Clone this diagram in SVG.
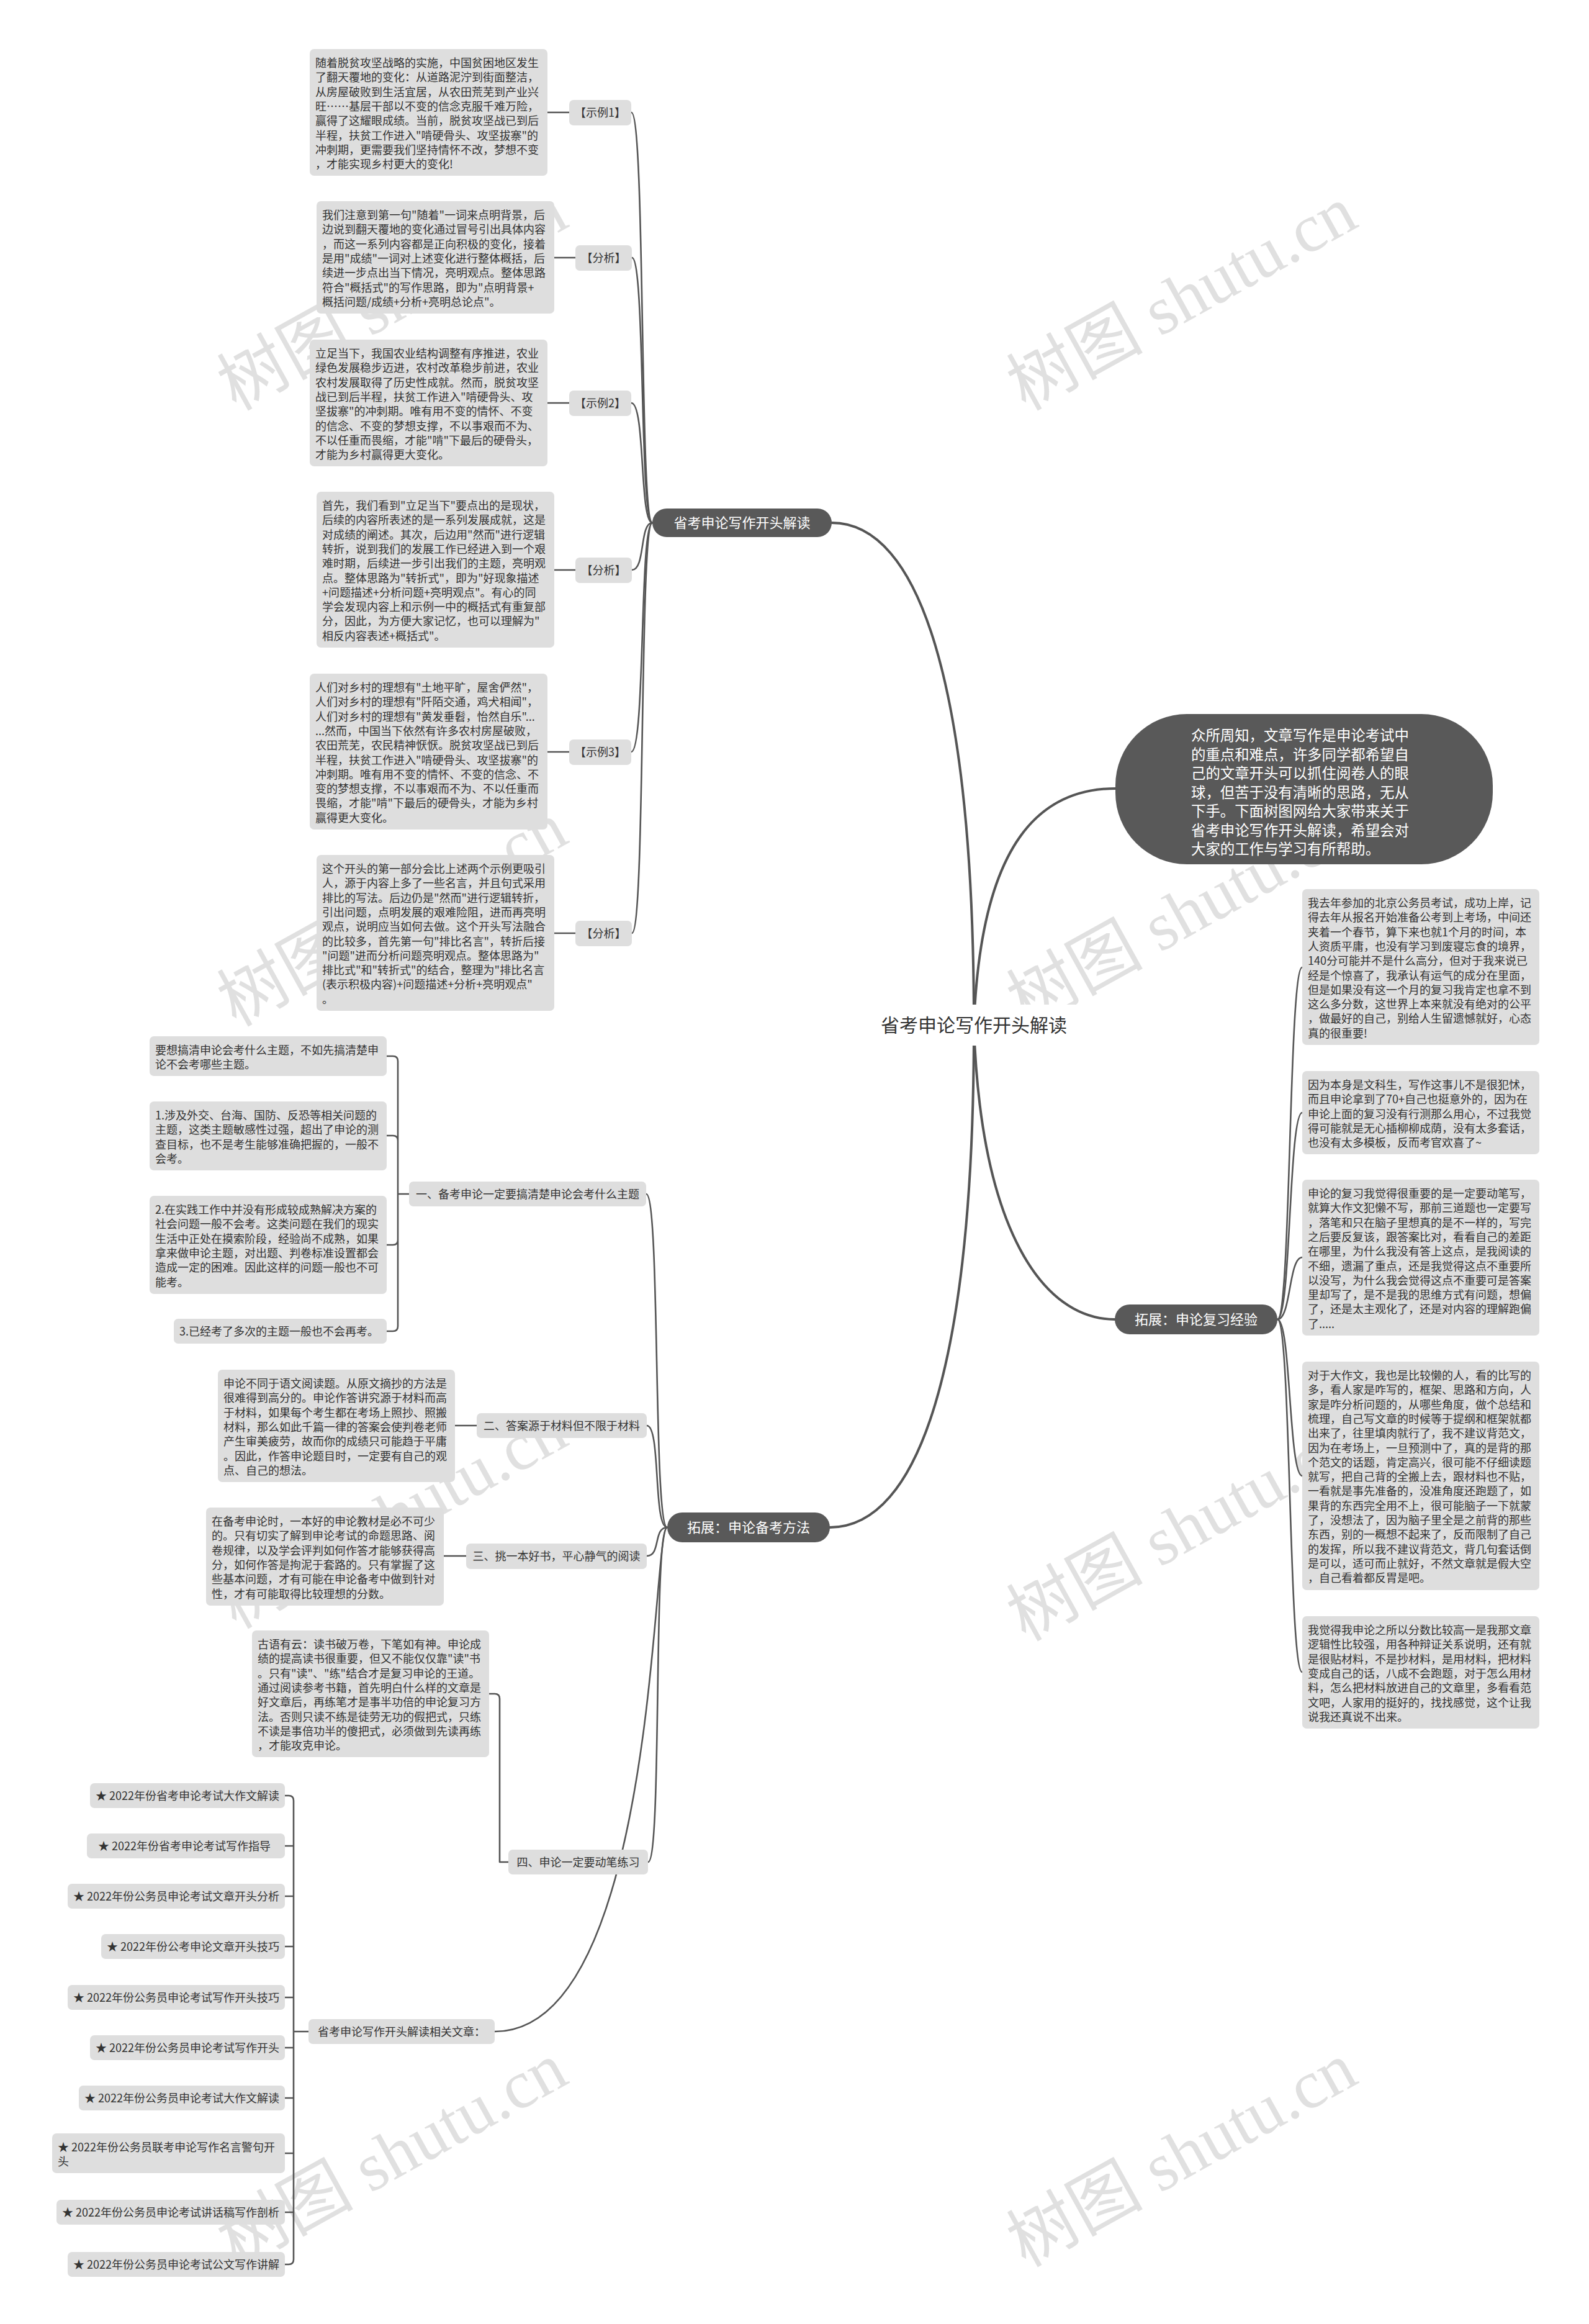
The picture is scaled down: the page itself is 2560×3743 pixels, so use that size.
<svg xmlns="http://www.w3.org/2000/svg" width="2560" height="3743" viewBox="0 0 2560 3743">
<style>
.t{font-family:"Noto Sans CJK SC","Noto Sans",sans-serif;font-size:18px;fill:#333}
.box{fill:#dedede}
.dk{fill:#595959}
.wt{font-family:"Noto Sans CJK SC","Noto Sans",sans-serif;font-size:22px;fill:#fff}
.ln{fill:none;stroke:#555;stroke-width:2.6;stroke-linecap:round;stroke-linejoin:round}
.mn{fill:none;stroke:#555;stroke-width:4;stroke-linecap:round}
.wm{font-size:110px;fill:#c8c8c8;opacity:0.55}
.wmc{font-family:"Noto Sans CJK SC",sans-serif}
.wme{font-family:"Liberation Serif",serif}
</style>
<rect width="2560" height="3743" fill="#fff"/>
<g id="watermarks">
<text class="wm" transform="translate(650,513) rotate(-29)" text-anchor="middle"><tspan class="wmc">树图</tspan><tspan class="wme"> shutu.cn</tspan></text>
<text class="wm" transform="translate(1922,513) rotate(-29)" text-anchor="middle"><tspan class="wmc">树图</tspan><tspan class="wme"> shutu.cn</tspan></text>
<text class="wm" transform="translate(650,1505) rotate(-29)" text-anchor="middle"><tspan class="wmc">树图</tspan><tspan class="wme"> shutu.cn</tspan></text>
<text class="wm" transform="translate(1922,1505) rotate(-29)" text-anchor="middle"><tspan class="wmc">树图</tspan><tspan class="wme"> shutu.cn</tspan></text>
<text class="wm" transform="translate(650,2475) rotate(-29)" text-anchor="middle"><tspan class="wmc">树图</tspan><tspan class="wme"> shutu.cn</tspan></text>
<text class="wm" transform="translate(1922,2495) rotate(-29)" text-anchor="middle"><tspan class="wmc">树图</tspan><tspan class="wme"> shutu.cn</tspan></text>
<text class="wm" transform="translate(650,3503) rotate(-29)" text-anchor="middle"><tspan class="wmc">树图</tspan><tspan class="wme"> shutu.cn</tspan></text>
<text class="wm" transform="translate(1922,3503) rotate(-29)" text-anchor="middle"><tspan class="wmc">树图</tspan><tspan class="wme"> shutu.cn</tspan></text>
</g>
<g id="connectors">
<path class="mn" d="M1569,1652 C1569,1100 1480,842 1340,842"/>
<path class="mn" d="M1569,1652 C1580,1350 1680,1270 1797,1270"/>
<path class="mn" d="M1569,1652 C1580,1980 1680,2125 1796,2125"/>
<path class="mn" d="M1569,1652 C1569,2200 1480,2460 1337,2460"/>
<path class="ln" d="M1017,181 C1040,181 1030,842 1051,842"/>
<path class="ln" d="M1018,415 C1040,415 1030,842 1051,842"/>
<path class="ln" d="M1017,649 C1040,649 1030,842 1051,842"/>
<path class="ln" d="M1018,918 C1040,918 1030,842 1051,842"/>
<path class="ln" d="M1017,1211 C1040,1211 1030,842 1051,842"/>
<path class="ln" d="M1018,1503 C1040,1503 1030,842 1051,842"/>
<path class="ln" d="M882,181 H917"/>
<path class="ln" d="M893,415 H927"/>
<path class="ln" d="M882,649 H917"/>
<path class="ln" d="M893,918 H927"/>
<path class="ln" d="M882,1211 H917"/>
<path class="ln" d="M893,1503 H927"/>
<path class="ln" d="M2058,2125 C2080,2125 2076,1558 2098,1558"/>
<path class="ln" d="M2058,2125 C2080,2125 2076,1792 2098,1792"/>
<path class="ln" d="M2058,2125 C2080,2125 2076,2025 2098,2025"/>
<path class="ln" d="M2058,2125 C2080,2125 2076,2377 2098,2377"/>
<path class="ln" d="M2058,2125 C2080,2125 2076,2693 2098,2693"/>
<path class="ln" d="M1075,2460 C1052,2460 1064,1923 1041,1923"/>
<path class="ln" d="M1075,2460 C1052,2460 1065,2296 1042,2296"/>
<path class="ln" d="M1075,2460 C1052,2460 1065,2506 1042,2506"/>
<path class="ln" d="M1075,2460 C1052,2460 1067,2999 1044,2999"/>
<path class="ln" d="M1075,2460 C1050,2460 1060,3272 797,3272"/>
<path class="ln" d="M623,1701 H633 Q641,1701 641,1709 V2136 Q641,2144 633,2144 H623 M623,1829 H633 Q641,1829 641,1837 M623,2005 H633 Q641,2005 641,1997 M641,1923 H659"/>
<path class="ln" d="M733,2296 H768"/>
<path class="ln" d="M715,2506 H751"/>
<path class="ln" d="M788,2728 H797 Q805,2728 805,2736 V2999 H819"/>
<path class="ln" d="M459,2892 H465 Q473,2892 473,2900 V3639 Q473,3647 465,3647 H459 M459,2973 H473 M459,3054 H473 M459,3135 H473 M459,3217 H473 M459,3298 H473 M459,3379 H473 M459,3468 H473 M459,3563 H473 M473,3272 H497"/>
</g>
<g id="center">
<rect x="1400" y="1618" width="340" height="66" rx="8" fill="#fff"/>
<text x="1569" y="1662" text-anchor="middle" style="font-family:'Noto Sans CJK SC',sans-serif;font-size:30px;fill:#333">省考申论写作开头解读</text>
</g>
<g id="intro">
<rect x="1797" y="1150" width="608" height="242" rx="115" fill="#595959"/>
<text class="wt" x="1919" y="1193" style="font-size:23.4px"><tspan x="1919">众所周知，文章写作是申论考试中</tspan><tspan x="1919" dy="30.5">的重点和难点，许多同学都希望自</tspan><tspan x="1919" dy="30.5">己的文章开头可以抓住阅卷人的眼</tspan><tspan x="1919" dy="30.5">球，但苦于没有清晰的思路，无从</tspan><tspan x="1919" dy="30.5">下手。下面树图网给大家带来关于</tspan><tspan x="1919" dy="30.5">省考申论写作开头解读，希望会对</tspan><tspan x="1919" dy="30.5">大家的工作与学习有所帮助。</tspan></text>
</g>
<g id="branch1">
<rect class="dk" x="1051" y="819" width="289" height="46" rx="23"/>
<text class="wt" x="1195.5" y="850" text-anchor="middle">省考申论写作开头解读</text>
</g>
<g id="branch2">
<rect class="dk" x="1796" y="2101" width="262" height="48" rx="24"/>
<text class="wt" x="1927" y="2133" text-anchor="middle">拓展：申论复习经验</text>
</g>
<g id="branch3">
<rect class="dk" x="1075" y="2436" width="262" height="48" rx="24"/>
<text class="wt" x="1206" y="2468" text-anchor="middle">拓展：申论备考方法</text>
</g>
<g id="label-ex1"><rect class="box" x="917" y="161" width="100" height="41" rx="7"/><text class="t" x="967" y="188" text-anchor="middle">【示例1】</text></g>
<g id="label-an1"><rect class="box" x="927" y="395" width="91" height="41" rx="7"/><text class="t" x="972.5" y="422" text-anchor="middle">【分析】</text></g>
<g id="label-ex2"><rect class="box" x="917" y="629" width="100" height="41" rx="7"/><text class="t" x="967" y="656" text-anchor="middle">【示例2】</text></g>
<g id="label-an2"><rect class="box" x="927" y="898" width="91" height="41" rx="7"/><text class="t" x="972.5" y="925" text-anchor="middle">【分析】</text></g>
<g id="label-ex3"><rect class="box" x="917" y="1191" width="100" height="41" rx="7"/><text class="t" x="967" y="1218" text-anchor="middle">【示例3】</text></g>
<g id="label-an3"><rect class="box" x="927" y="1483" width="91" height="41" rx="7"/><text class="t" x="972.5" y="1510" text-anchor="middle">【分析】</text></g>
<g id="ex1">
<rect class="box" x="499" y="79" width="383" height="204" rx="7"/>
<text class="t" x="508" y="108"><tspan x="508">随着脱贫攻坚战略的实施，中国贫困地区发生</tspan><tspan x="508" dy="23.3">了翻天覆地的变化：从道路泥泞到街面整洁，</tspan><tspan x="508" dy="23.3">从房屋破败到生活宜居，从农田荒芜到产业兴</tspan><tspan x="508" dy="23.3">旺……基层干部以不变的信念克服千难万险，</tspan><tspan x="508" dy="23.3">赢得了这耀眼成绩。当前，脱贫攻坚战已到后</tspan><tspan x="508" dy="23.3">半程，扶贫工作进入"啃硬骨头、攻坚拔寨"的</tspan><tspan x="508" dy="23.3">冲刺期，更需要我们坚持情怀不改，梦想不变</tspan><tspan x="508" dy="23.3">，才能实现乡村更大的变化!</tspan></text>
</g>
<g id="an1">
<rect class="box" x="510" y="324" width="383" height="181" rx="7"/>
<text class="t" x="519" y="353"><tspan x="519">我们注意到第一句"随着"一词来点明背景，后</tspan><tspan x="519" dy="23.3">边说到翻天覆地的变化通过冒号引出具体内容</tspan><tspan x="519" dy="23.3">，而这一系列内容都是正向积极的变化，接着</tspan><tspan x="519" dy="23.3">是用"成绩"一词对上述变化进行整体概括，后</tspan><tspan x="519" dy="23.3">续进一步点出当下情况，亮明观点。整体思路</tspan><tspan x="519" dy="23.3">符合"概括式"的写作思路，即为"点明背景+</tspan><tspan x="519" dy="23.3">概括问题/成绩+分析+亮明总论点"。</tspan></text>
</g>
<g id="ex2">
<rect class="box" x="499" y="547" width="383" height="204" rx="7"/>
<text class="t" x="508" y="576"><tspan x="508">立足当下，我国农业结构调整有序推进，农业</tspan><tspan x="508" dy="23.3">绿色发展稳步迈进，农村改革稳步前进，农业</tspan><tspan x="508" dy="23.3">农村发展取得了历史性成就。然而，脱贫攻坚</tspan><tspan x="508" dy="23.3">战已到后半程，扶贫工作进入"啃硬骨头、攻</tspan><tspan x="508" dy="23.3">坚拔寨"的冲刺期。唯有用不变的情怀、不变</tspan><tspan x="508" dy="23.3">的信念、不变的梦想支撑，不以事艰而不为、</tspan><tspan x="508" dy="23.3">不以任重而畏缩，才能"啃"下最后的硬骨头，</tspan><tspan x="508" dy="23.3">才能为乡村赢得更大变化。</tspan></text>
</g>
<g id="an2">
<rect class="box" x="510" y="792" width="383" height="251" rx="7"/>
<text class="t" x="519" y="821"><tspan x="519">首先，我们看到"立足当下"要点出的是现状，</tspan><tspan x="519" dy="23.3">后续的内容所表述的是一系列发展成就，这是</tspan><tspan x="519" dy="23.3">对成绩的阐述。其次，后边用"然而"进行逻辑</tspan><tspan x="519" dy="23.3">转折，说到我们的发展工作已经进入到一个艰</tspan><tspan x="519" dy="23.3">难时期，后续进一步引出我们的主题，亮明观</tspan><tspan x="519" dy="23.3">点。整体思路为"转折式"，即为"好现象描述</tspan><tspan x="519" dy="23.3">+问题描述+分析问题+亮明观点"。有心的同</tspan><tspan x="519" dy="23.3">学会发现内容上和示例一中的概括式有重复部</tspan><tspan x="519" dy="23.3">分，因此，为方便大家记忆，也可以理解为"</tspan><tspan x="519" dy="23.3">相反内容表述+概括式"。</tspan></text>
</g>
<g id="ex3">
<rect class="box" x="499" y="1085" width="383" height="251" rx="7"/>
<text class="t" x="508" y="1114"><tspan x="508">人们对乡村的理想有"土地平旷，屋舍俨然"，</tspan><tspan x="508" dy="23.3">人们对乡村的理想有"阡陌交通，鸡犬相闻"，</tspan><tspan x="508" dy="23.3">人们对乡村的理想有"黄发垂髫，怡然自乐"...</tspan><tspan x="508" dy="23.3">...然而，中国当下依然有许多农村房屋破败，</tspan><tspan x="508" dy="23.3">农田荒芜，农民精神恹恹。脱贫攻坚战已到后</tspan><tspan x="508" dy="23.3">半程，扶贫工作进入"啃硬骨头、攻坚拔寨"的</tspan><tspan x="508" dy="23.3">冲刺期。唯有用不变的情怀、不变的信念、不</tspan><tspan x="508" dy="23.3">变的梦想支撑，不以事艰而不为、不以任重而</tspan><tspan x="508" dy="23.3">畏缩，才能"啃"下最后的硬骨头，才能为乡村</tspan><tspan x="508" dy="23.3">赢得更大变化。</tspan></text>
</g>
<g id="an3">
<rect class="box" x="510" y="1377" width="383" height="251" rx="7"/>
<text class="t" x="519" y="1406"><tspan x="519">这个开头的第一部分会比上述两个示例更吸引</tspan><tspan x="519" dy="23.3">人，源于内容上多了一些名言，并且句式采用</tspan><tspan x="519" dy="23.3">排比的写法。后边仍是"然而"进行逻辑转折，</tspan><tspan x="519" dy="23.3">引出问题，点明发展的艰难险阻，进而再亮明</tspan><tspan x="519" dy="23.3">观点，说明应当如何去做。这个开头写法融合</tspan><tspan x="519" dy="23.3">的比较多，首先第一句"排比名言"，转折后接</tspan><tspan x="519" dy="23.3">"问题"进而分析问题亮明观点。整体思路为"</tspan><tspan x="519" dy="23.3">排比式"和"转折式"的结合，整理为"排比名言</tspan><tspan x="519" dy="23.3">(表示积极内容)+问题描述+分析+亮明观点"</tspan><tspan x="519" dy="23.3">。</tspan></text>
</g>
<g id="exp1">
<rect class="box" x="2098" y="1432" width="382" height="251" rx="7"/>
<text class="t" x="2107" y="1461"><tspan x="2107">我去年参加的北京公务员考试，成功上岸，记</tspan><tspan x="2107" dy="23.3">得去年从报名开始准备公考到上考场，中间还</tspan><tspan x="2107" dy="23.3">夹着一个春节，算下来也就1个月的时间，本</tspan><tspan x="2107" dy="23.3">人资质平庸，也没有学习到废寝忘食的境界，</tspan><tspan x="2107" dy="23.3">140分可能并不是什么高分，但对于我来说已</tspan><tspan x="2107" dy="23.3">经是个惊喜了，我承认有运气的成分在里面，</tspan><tspan x="2107" dy="23.3">但是如果没有这一个月的复习我肯定也拿不到</tspan><tspan x="2107" dy="23.3">这么多分数，这世界上本来就没有绝对的公平</tspan><tspan x="2107" dy="23.3">，做最好的自己，别给人生留遗憾就好，心态</tspan><tspan x="2107" dy="23.3">真的很重要!</tspan></text>
</g>
<g id="exp2">
<rect class="box" x="2098" y="1725" width="382" height="134" rx="7"/>
<text class="t" x="2107" y="1754"><tspan x="2107">因为本身是文科生，写作这事儿不是很犯怵，</tspan><tspan x="2107" dy="23.3">而且申论拿到了70+自己也挺意外的，因为在</tspan><tspan x="2107" dy="23.3">申论上面的复习没有行测那么用心，不过我觉</tspan><tspan x="2107" dy="23.3">得可能就是无心插柳柳成荫，没有太多套话，</tspan><tspan x="2107" dy="23.3">也没有太多模板，反而考官欢喜了~</tspan></text>
</g>
<g id="exp3">
<rect class="box" x="2098" y="1900" width="382" height="251" rx="7"/>
<text class="t" x="2107" y="1929"><tspan x="2107">申论的复习我觉得很重要的是一定要动笔写，</tspan><tspan x="2107" dy="23.3">就算大作文犯懒不写，那前三道题也一定要写</tspan><tspan x="2107" dy="23.3">，落笔和只在脑子里想真的是不一样的，写完</tspan><tspan x="2107" dy="23.3">之后要反复该，跟答案比对，看看自己的差距</tspan><tspan x="2107" dy="23.3">在哪里，为什么我没有答上这点，是我阅读的</tspan><tspan x="2107" dy="23.3">不细，遗漏了重点，还是我觉得这点不重要所</tspan><tspan x="2107" dy="23.3">以没写，为什么我会觉得这点不重要可是答案</tspan><tspan x="2107" dy="23.3">里却写了，是不是我的思维方式有问题，想偏</tspan><tspan x="2107" dy="23.3">了，还是太主观化了，还是对内容的理解跑偏</tspan><tspan x="2107" dy="23.3">了.....</tspan></text>
</g>
<g id="exp4">
<rect class="box" x="2098" y="2193" width="382" height="368" rx="7"/>
<text class="t" x="2107" y="2222"><tspan x="2107">对于大作文，我也是比较懒的人，看的比写的</tspan><tspan x="2107" dy="23.3">多，看人家是咋写的，框架、思路和方向，人</tspan><tspan x="2107" dy="23.3">家是咋分析问题的，从哪些角度，做个总结和</tspan><tspan x="2107" dy="23.3">梳理，自己写文章的时候等于提纲和框架就都</tspan><tspan x="2107" dy="23.3">出来了，往里填肉就行了，我不建议背范文，</tspan><tspan x="2107" dy="23.3">因为在考场上，一旦预测中了，真的是背的那</tspan><tspan x="2107" dy="23.3">个范文的话题，肯定高兴，很可能不仔细读题</tspan><tspan x="2107" dy="23.3">就写，把自己背的全搬上去，跟材料也不贴，</tspan><tspan x="2107" dy="23.3">一看就是事先准备的，没准角度还跑题了，如</tspan><tspan x="2107" dy="23.3">果背的东西完全用不上，很可能脑子一下就蒙</tspan><tspan x="2107" dy="23.3">了，没想法了，因为脑子里全是之前背的那些</tspan><tspan x="2107" dy="23.3">东西，别的一概想不起来了，反而限制了自己</tspan><tspan x="2107" dy="23.3">的发挥，所以我不建议背范文，背几句套话倒</tspan><tspan x="2107" dy="23.3">是可以，适可而止就好，不然文章就是假大空</tspan><tspan x="2107" dy="23.3">，自己看着都反胃是吧。</tspan></text>
</g>
<g id="exp5">
<rect class="box" x="2098" y="2603" width="382" height="181" rx="7"/>
<text class="t" x="2107" y="2632"><tspan x="2107">我觉得我申论之所以分数比较高一是我那文章</tspan><tspan x="2107" dy="23.3">逻辑性比较强，用各种辩证关系说明，还有就</tspan><tspan x="2107" dy="23.3">是很贴材料，不是抄材料，是用材料，把材料</tspan><tspan x="2107" dy="23.3">变成自己的话，八成不会跑题，对于怎么用材</tspan><tspan x="2107" dy="23.3">料，怎么把材料放进自己的文章里，多看看范</tspan><tspan x="2107" dy="23.3">文吧，人家用的挺好的，找找感觉，这个让我</tspan><tspan x="2107" dy="23.3">说我还真说不出来。</tspan></text>
</g>
<g id="sec1">
<rect class="box" x="659" y="1903" width="382" height="40" rx="7"/>
<text class="t" x="850" y="1930" text-anchor="middle">一、备考申论一定要搞清楚申论会考什么主题</text>
</g>
<g id="sec1-a">
<rect class="box" x="241" y="1669" width="382" height="64" rx="7"/>
<text class="t" x="250" y="1698"><tspan x="250">要想搞清申论会考什么主题，不如先搞清楚申</tspan><tspan x="250" dy="23.3">论不会考哪些主题。</tspan></text>
</g>
<g id="sec1-b">
<rect class="box" x="241" y="1774" width="382" height="111" rx="7"/>
<text class="t" x="250" y="1803"><tspan x="250">1.涉及外交、台海、国防、反恐等相关问题的</tspan><tspan x="250" dy="23.3">主题，这类主题敏感性过强，超出了申论的测</tspan><tspan x="250" dy="23.3">查目标，也不是考生能够准确把握的，一般不</tspan><tspan x="250" dy="23.3">会考。</tspan></text>
</g>
<g id="sec1-c">
<rect class="box" x="241" y="1926" width="382" height="158" rx="7"/>
<text class="t" x="250" y="1955"><tspan x="250">2.在实践工作中并没有形成较成熟解决方案的</tspan><tspan x="250" dy="23.3">社会问题一般不会考。这类问题在我们的现实</tspan><tspan x="250" dy="23.3">生活中正处在摸索阶段，经验尚不成熟，如果</tspan><tspan x="250" dy="23.3">拿来做申论主题，对出题、判卷标准设置都会</tspan><tspan x="250" dy="23.3">造成一定的困难。因此这样的问题一般也不可</tspan><tspan x="250" dy="23.3">能考。</tspan></text>
</g>
<g id="sec1-d">
<rect class="box" x="280" y="2124" width="343" height="40" rx="7"/>
<text class="t" x="289" y="2151">3.已经考了多次的主题一般也不会再考。</text>
</g>
<g id="sec2">
<rect class="box" x="768" y="2276" width="274" height="40" rx="7"/>
<text class="t" x="905" y="2303" text-anchor="middle">二、答案源于材料但不限于材料</text>
</g>
<g id="sec2-a">
<rect class="box" x="351" y="2206" width="382" height="181" rx="7"/>
<text class="t" x="360" y="2235"><tspan x="360">申论不同于语文阅读题。从原文摘抄的方法是</tspan><tspan x="360" dy="23.3">很难得到高分的。申论作答讲究源于材料而高</tspan><tspan x="360" dy="23.3">于材料，如果每个考生都在考场上照抄、照搬</tspan><tspan x="360" dy="23.3">材料，那么如此千篇一律的答案会使判卷老师</tspan><tspan x="360" dy="23.3">产生审美疲劳，故而你的成绩只可能趋于平庸</tspan><tspan x="360" dy="23.3">。因此，作答申论题目时，一定要有自己的观</tspan><tspan x="360" dy="23.3">点、自己的想法。</tspan></text>
</g>
<g id="sec3">
<rect class="box" x="751" y="2486" width="291" height="41" rx="7"/>
<text class="t" x="896.5" y="2513" text-anchor="middle">三、挑一本好书，平心静气的阅读</text>
</g>
<g id="sec3-a">
<rect class="box" x="332" y="2428" width="383" height="158" rx="7"/>
<text class="t" x="341" y="2457"><tspan x="341">在备考申论时，一本好的申论教材是必不可少</tspan><tspan x="341" dy="23.3">的。只有切实了解到申论考试的命题思路、阅</tspan><tspan x="341" dy="23.3">卷规律，以及学会评判如何作答才能够获得高</tspan><tspan x="341" dy="23.3">分，如何作答是拘泥于套路的。只有掌握了这</tspan><tspan x="341" dy="23.3">些基本问题，才有可能在申论备考中做到针对</tspan><tspan x="341" dy="23.3">性，才有可能取得比较理想的分数。</tspan></text>
</g>
<g id="sec4">
<rect class="box" x="819" y="2979" width="225" height="40" rx="7"/>
<text class="t" x="931.5" y="3006" text-anchor="middle">四、申论一定要动笔练习</text>
</g>
<g id="sec4-a">
<rect class="box" x="406" y="2626" width="382" height="204" rx="7"/>
<text class="t" x="415" y="2655"><tspan x="415">古语有云：读书破万卷，下笔如有神。申论成</tspan><tspan x="415" dy="23.3">绩的提高读书很重要，但又不能仅仅靠"读"书</tspan><tspan x="415" dy="23.3">。只有"读"、"练"结合才是复习申论的王道。</tspan><tspan x="415" dy="23.3">通过阅读参考书籍，首先明白什么样的文章是</tspan><tspan x="415" dy="23.3">好文章后，再练笔才是事半功倍的申论复习方</tspan><tspan x="415" dy="23.3">法。否则只读不练是徒劳无功的假把式，只练</tspan><tspan x="415" dy="23.3">不读是事倍功半的傻把式，必须做到先读再练</tspan><tspan x="415" dy="23.3">，才能攻克申论。</tspan></text>
</g>
<g id="related">
<rect class="box" x="497" y="3252" width="300" height="40" rx="7"/>
<text class="t" x="647" y="3279" text-anchor="middle">省考申论写作开头解读相关文章：</text>
</g>
<g id="rel1"><rect class="box" x="145" y="2872" width="314" height="40" rx="7"/><text class="t" x="154" y="2899">★ 2022年份省考申论考试大作文解读</text></g>
<g id="rel2"><rect class="box" x="140" y="2953" width="319" height="40" rx="7"/><text class="t" x="158" y="2980">★ 2022年份省考申论考试写作指导</text></g>
<g id="rel3"><rect class="box" x="109" y="3034" width="350" height="40" rx="7"/><text class="t" x="118" y="3061">★ 2022年份公务员申论考试文章开头分析</text></g>
<g id="rel4"><rect class="box" x="163" y="3115" width="296" height="40" rx="7"/><text class="t" x="172" y="3142">★ 2022年份公考申论文章开头技巧</text></g>
<g id="rel5"><rect class="box" x="109" y="3197" width="350" height="40" rx="7"/><text class="t" x="118" y="3224">★ 2022年份公务员申论考试写作开头技巧</text></g>
<g id="rel6"><rect class="box" x="145" y="3278" width="314" height="40" rx="7"/><text class="t" x="154" y="3305">★ 2022年份公务员申论考试写作开头</text></g>
<g id="rel7"><rect class="box" x="127" y="3359" width="332" height="40" rx="7"/><text class="t" x="136" y="3386">★ 2022年份公务员申论考试大作文解读</text></g>
<g id="rel8"><rect class="box" x="84" y="3436" width="375" height="64" rx="7"/><text class="t" x="93" y="3465"><tspan x="93">★ 2022年份公务员联考申论写作名言警句开</tspan><tspan x="93" dy="23.3">头</tspan></text></g>
<g id="rel9"><rect class="box" x="91" y="3543" width="368" height="40" rx="7"/><text class="t" x="100" y="3570">★ 2022年份公务员申论考试讲话稿写作剖析</text></g>
<g id="rel10"><rect class="box" x="109" y="3627" width="350" height="40" rx="7"/><text class="t" x="118" y="3654">★ 2022年份公务员申论考试公文写作讲解</text></g>
</svg>
